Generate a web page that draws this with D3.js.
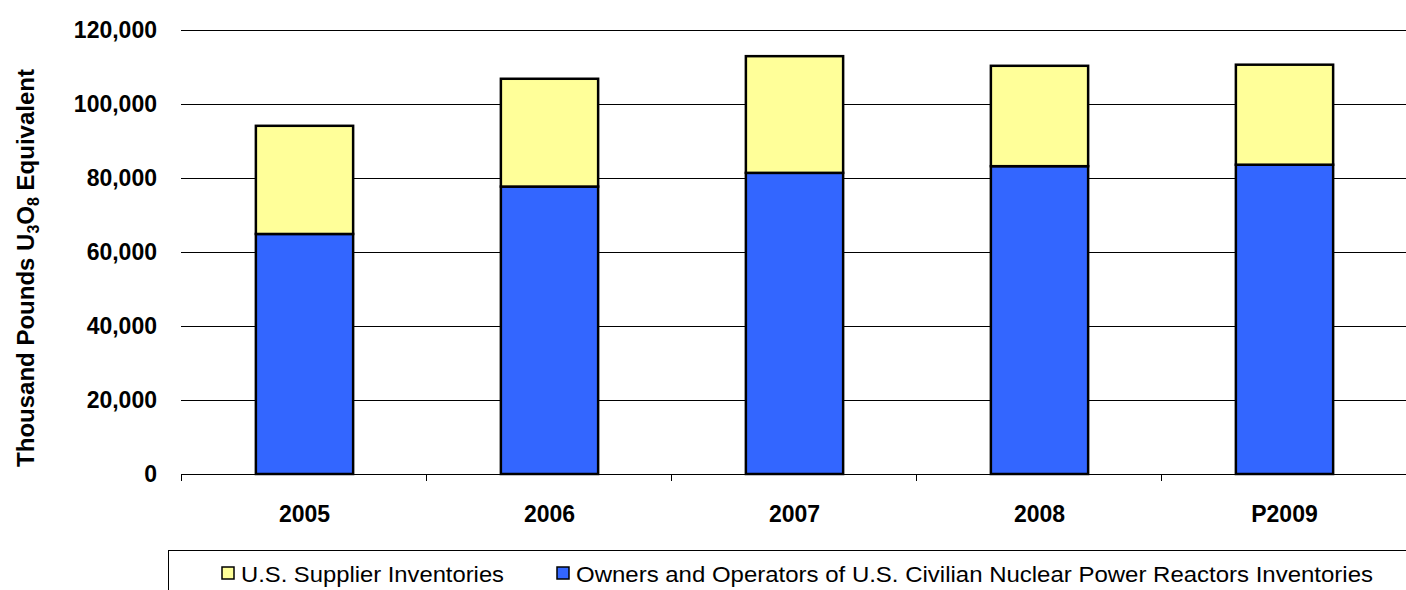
<!DOCTYPE html>
<html><head><meta charset="utf-8">
<script src="https://cdn.jsdelivr.net/npm/d3@7/dist/d3.min.js"></script>
<style>
html,body{margin:0;padding:0;background:#fff;}
svg{display:block;font-family:Arial,"Liberation Sans",sans-serif;}
</style></head>
<body><svg id="c" width="1406" height="590"></svg>
<script>
const categories = ["2005", "2006", "2007", "2008", "P2009"];
const ownersValues = [64800, 77600, 81300, 83100, 83500];
const supplierValues = [29200, 29100, 31500, 27100, 27000];
const yTicks = [0, 20000, 40000, 60000, 80000, 100000, 120000];
const seriesNames = ["U.S. Supplier Inventories", "Owners and Operators of U.S. Civilian Nuclear Power Reactors Inventories"];
const seriesColors = ["#FFFF99", "#3366FF"];

(function () {
const svg = d3.select("#c");
const plotLeft = 181, plotRight = 1406, plotTop = 29.5, plotBottom = 474;

const x = d3.scaleBand().domain(categories).range([plotLeft, plotRight]).padding(0);
const y = d3.scaleLinear().domain([0, 120000]).range([plotBottom, plotTop]);

// gridlines
svg.append("g").selectAll("line").data(yTicks.filter(d => d > 0)).join("line")
  .attr("x1", plotLeft).attr("x2", plotRight)
  .attr("y1", d => Math.round(y(d)) + 0.5).attr("y2", d => Math.round(y(d)) + 0.5)
  .attr("stroke", "#000").attr("stroke-width", 1);

// y tick labels
svg.append("g").selectAll("text").data(yTicks).join("text")
  .attr("x", 157).attr("y", d => y(d)).attr("dy", "0.36em")
  .attr("text-anchor", "end").attr("font-size", 23).attr("font-weight", "bold")
  .text(d => d3.format(",")(d));

// stacked data
const rows = categories.map((c, i) => ({cat: c, owners: ownersValues[i], supplier: supplierValues[i]}));
const stack = d3.stack().keys(["owners", "supplier"])(rows);
const colorFor = {owners: seriesColors[1], supplier: seriesColors[0]};
const bw = x.bandwidth() * 0.397;

stack.forEach(layer => {
  svg.append("g").selectAll("rect").data(layer).join("rect")
    .attr("x", d => x(d.data.cat) + (x.bandwidth() - bw) / 2 + 1)
    .attr("width", bw)
    .attr("y", d => y(d[1]))
    .attr("height", d => y(d[0]) - y(d[1]))
    .attr("fill", colorFor[layer.key])
    .attr("stroke", "#000").attr("stroke-width", 2.5);
});

// x axis
const xa = svg.append("g");
xa.append("line").attr("x1", plotLeft).attr("x2", plotRight).attr("y1", plotBottom + 0.5).attr("y2", plotBottom + 0.5)
  .attr("stroke", "#000").attr("stroke-width", 1);
xa.selectAll("line.t").data(categories).join("line").attr("class", "t")
  .attr("x1", d => Math.round(x(d)) + 0.5).attr("x2", d => Math.round(x(d)) + 0.5)
  .attr("y1", plotBottom).attr("y2", plotBottom + 7)
  .attr("stroke", "#000").attr("stroke-width", 1);
xa.selectAll("text").data(categories).join("text")
  .attr("x", d => x(d) + x.bandwidth() / 2 + 1).attr("y", 522)
  .attr("text-anchor", "middle").attr("font-size", 23).attr("font-weight", "bold")
  .text(d => d);

// y axis title
const yt = svg.append("text")
  .attr("transform", "translate(33.5,268) rotate(-90)")
  .attr("text-anchor", "middle").attr("font-size", 24).attr("font-weight", "bold");
yt.append("tspan").text("Thousand Pounds U");
yt.append("tspan").attr("font-size", 16).attr("dy", 5).text("3");
yt.append("tspan").attr("dy", -5).text("O");
yt.append("tspan").attr("font-size", 16).attr("dy", 5).text("8");
yt.append("tspan").attr("dy", -5).text(" Equivalent");

// legend
svg.append("rect").attr("x", 168.5).attr("y", 550.5).attr("width", 1300).attr("height", 100)
  .attr("fill", "#fff").attr("stroke", "#000").attr("stroke-width", 1);
const legX = [222, 557];
const legW = [263, 797];
seriesNames.forEach((n, i) => {
  svg.append("rect").attr("x", legX[i]).attr("y", 567).attr("width", 12).attr("height", 12)
    .attr("fill", seriesColors[i]).attr("stroke", "#000").attr("stroke-width", 1.5);
  svg.append("text").attr("x", legX[i] + 19).attr("y", 582)
    .attr("font-size", 22).attr("textLength", legW[i]).attr("lengthAdjust", "spacingAndGlyphs")
    .text(n);
});
})();
</script></body></html>
